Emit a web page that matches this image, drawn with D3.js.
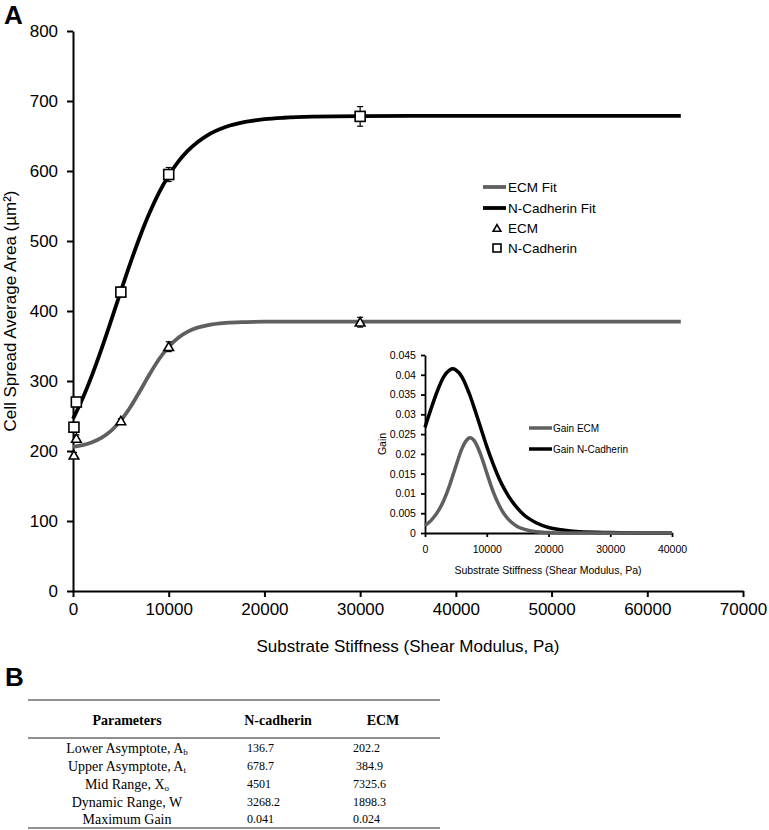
<!DOCTYPE html>
<html>
<head>
<meta charset="utf-8">
<script src="https://cdn.jsdelivr.net/npm/d3@7/dist/d3.min.js"></script>
<style>
  html, body { margin: 0; padding: 0; background: #fff; }
  svg { display: block; }
  text { font-family: "Liberation Sans", Arial, sans-serif; fill: #000; }
  .serif { font-family: "Liberation Serif", "Times New Roman", serif; }
</style>
</head>
<body>
<svg id="chart" width="769" height="830"></svg>
<script>
// ---------------- DATA ----------------
// Measured points (Substrate stiffness, Pa)
const ecmX = [100, 350, 5000, 10000, 30000];
const ecmY = [194, 218, 243, 349, 384];
const ecmErr = [4, 5, 3, 7, 7];
const ncadX = [100, 350, 5000, 10000, 30000];
const ncadY = [234, 270, 427, 595, 678];
const ncadErr = [4, 5, 7, 10, 14];

// Fit curves
const fitX = [0,1000,2000,3000,4000,5000,6000,7000,8000,9000,10000,11000,12000,13000,14000,16000,18000,20000,22000,25000,30000,40000,63500];
const ncadFitY = [245.9,275.0,308.8,346.6,387.0,428.4,468.8,506.5,540.3,569.5,593.7,613.4,629.1,641.2,650.6,663.1,670.1,674.0,676.1,677.7,678.5,678.7,678.7];
const ecmFitY = [206.0,208.5,212.6,219.2,229.2,243.7,262.9,285.7,309.6,331.4,349.0,361.9,370.6,376.2,379.6,383.0,384.2,384.7,384.8,384.9,384.9,384.9,384.9];

// Inset gain curves
const gainX = [0,1000,2000,3000,4000,4500,5000,6000,7000,7300,8000,9000,10000,11000,12000,13000,14000,15000,16000,18000,20000,22000,25000,30000,35000,40000];
const gainNcad = [0.0267,0.0315,0.0359,0.0394,0.0412,0.0415,0.0412,0.0394,0.0359,0.0347,0.0315,0.0267,0.0219,0.0176,0.0138,0.0107,0.0082,0.0062,0.0046,0.0026,0.0014,0.0008,0.0003,0.0001,0.0000,0.0000];
const gainEcm = [0.0019,0.0032,0.0052,0.0081,0.0121,0.0145,0.0169,0.0214,0.0239,0.0241,0.0233,0.0199,0.0152,0.0106,0.0070,0.0044,0.0027,0.0016,0.0010,0.0003,0.0001,0.0000,0.0000,0.0000,0.0000,0.0000];

// Ticks
const mainXTicks = [0,10000,20000,30000,40000,50000,60000,70000];
const mainYTicks = [0,100,200,300,400,500,600,700,800];
const insetXTicks = [0,10000,20000,30000,40000];
const insetYTicks = [0,0.005,0.01,0.015,0.02,0.025,0.03,0.035,0.04,0.045];

// Table
const tableHeaders = ["Parameters", "N-cadherin", "ECM"];
const tableParams = [["Lower Asymptote, A","b"],["Upper Asymptote, A","t"],["Mid Range, X","o"],["Dynamic Range, W",""],["Maximum Gain",""]];
const tableNcad = ["136.7","678.7","4501","3268.2","0.041"];
const tableEcm = ["202.2"," 384.9","7325.6","1898.3","0.024"];

// ---------------- DRAW ----------------
const svg = d3.select("#chart");
svg.append("rect").attr("width",769).attr("height",830).attr("fill","#fff");

const GRAY = "#5f5f5f";

// Main scales
const x = d3.scaleLinear().domain([0,70000]).range([73,743]);
const y = d3.scaleLinear().domain([0,800]).range([591,31]);

// Panel labels
svg.append("text").attr("x",4).attr("y",24).attr("font-size",26).attr("font-weight","bold").text("A");
svg.append("text").attr("x",5).attr("y",686).attr("font-size",26).attr("font-weight","bold").text("B");

// Axes
const xAxis = svg.append("g").attr("transform","translate(0,591)")
  .call(d3.axisBottom(x).tickValues(mainXTicks).tickFormat(d3.format("d")).tickSize(6).tickSizeOuter(0));
const yAxis = svg.append("g").attr("transform","translate(73,0)")
  .call(d3.axisLeft(y).tickValues(mainYTicks).tickFormat(d3.format("d")).tickSize(6).tickSizeOuter(0));
[xAxis,yAxis].forEach(g=>{
  g.select(".domain").attr("stroke","#000").attr("stroke-width",2);
  g.selectAll(".tick line").attr("stroke","#000").attr("stroke-width",2);
  g.selectAll(".tick text").attr("font-size",17).attr("font-family","Liberation Sans, Arial, sans-serif").attr("fill","#000");
});
xAxis.selectAll(".tick text").attr("dy","0.9em");
yAxis.selectAll(".tick text").attr("dx","-0.35em");

svg.append("text").attr("x",408).attr("y",652).attr("text-anchor","middle").attr("font-size",17)
  .text("Substrate Stiffness (Shear Modulus, Pa)");
svg.append("text").attr("transform","translate(16,311) rotate(-90)").attr("text-anchor","middle").attr("font-size",17)
  .text("Cell Spread Average Area (µm²)");

// Fit lines
const lineMain = d3.line().x(d=>x(d[0])).y(d=>y(d[1])).curve(d3.curveMonotoneX);
svg.append("path").datum(fitX.map((v,i)=>[v,ecmFitY[i]]))
  .attr("d",lineMain).attr("fill","none").attr("stroke",GRAY).attr("stroke-width",3.8);
svg.append("path").datum(fitX.map((v,i)=>[v,ncadFitY[i]]))
  .attr("d",lineMain).attr("fill","none").attr("stroke","#000").attr("stroke-width",3.8);

// Error bars
function errBars(xs, ys, es){
  const g = svg.append("g").attr("stroke","#000").attr("stroke-width",1.2);
  xs.forEach((v,i)=>{
    const cx = x(v), y1 = y(ys[i]-es[i]), y2 = y(ys[i]+es[i]);
    g.append("line").attr("x1",cx).attr("x2",cx).attr("y1",y1).attr("y2",y2);
    g.append("line").attr("x1",cx-3).attr("x2",cx+3).attr("y1",y1).attr("y2",y1);
    g.append("line").attr("x1",cx-3).attr("x2",cx+3).attr("y1",y2).attr("y2",y2);
  });
}
errBars(ecmX, ecmY, ecmErr);
errBars(ncadX, ncadY, ncadErr);

// Markers
const tri = d3.symbol().type(d3.symbolTriangle).size(40);
svg.append("g").selectAll("path").data(ecmX.map((v,i)=>[v,ecmY[i]])).join("path")
  .attr("d",tri).attr("transform",d=>`translate(${x(d[0])},${y(d[1])+1})`)
  .attr("fill","#fff").attr("stroke","#000").attr("stroke-width",1.6);
svg.append("g").selectAll("rect").data(ncadX.map((v,i)=>[v,ncadY[i]])).join("rect")
  .attr("x",d=>x(d[0])-5).attr("y",d=>y(d[1])-5).attr("width",10).attr("height",10)
  .attr("fill","#fff").attr("stroke","#000").attr("stroke-width",1.6);

// Main legend
const lg = svg.append("g");
const legItems = [
  {t:"ECM Fit", type:"line", c:GRAY, y:187},
  {t:"N-Cadherin Fit", type:"line", c:"#000", y:208},
  {t:"ECM", type:"tri", y:228},
  {t:"N-Cadherin", type:"sq", y:248}
];
legItems.forEach(it=>{
  if(it.type==="line"){
    lg.append("line").attr("x1",483).attr("x2",506).attr("y1",it.y).attr("y2",it.y).attr("stroke",it.c).attr("stroke-width",3.8);
  } else if(it.type==="tri"){
    lg.append("path").attr("d",d3.symbol().type(d3.symbolTriangle).size(26)).attr("transform",`translate(497,${it.y+1})`)
      .attr("fill","#fff").attr("stroke","#000").attr("stroke-width",1.6);
  } else {
    lg.append("rect").attr("x",493).attr("y",it.y-4).attr("width",8).attr("height",8)
      .attr("fill","#fff").attr("stroke","#000").attr("stroke-width",1.6);
  }
  lg.append("text").attr("x",508).attr("y",it.y+5).attr("font-size",13.5).text(it.t);
});

// ---------------- INSET ----------------
const ix = d3.scaleLinear().domain([0,40000]).range([425,672]);
const iy = d3.scaleLinear().domain([0,0.045]).range([533,355]);
const fmtGain = d=> d===0 ? "0" : String(+d.toFixed(3));
const ixAxis = svg.append("g").attr("transform","translate(0,533)")
  .call(d3.axisBottom(ix).tickValues(insetXTicks).tickFormat(d3.format("d")).tickSize(4).tickSizeOuter(0));
const iyAxis = svg.append("g").attr("transform","translate(425,0)")
  .call(d3.axisLeft(iy).tickValues(insetYTicks).tickFormat(fmtGain).tickSize(4).tickSizeOuter(0));
[ixAxis,iyAxis].forEach(g=>{
  g.select(".domain").attr("stroke","#000").attr("stroke-width",1.8);
  g.selectAll(".tick line").attr("stroke","#000").attr("stroke-width",1.8);
  g.selectAll(".tick text").attr("font-size",10.5).attr("font-family","Liberation Sans, Arial, sans-serif").attr("fill","#000");
});
ixAxis.selectAll(".tick text").attr("dy","1.25em");
iyAxis.selectAll(".tick text").attr("dx","-0.2em");
svg.append("text").attr("x",548).attr("y",574).attr("text-anchor","middle").attr("font-size",10.5)
  .text("Substrate Stiffness (Shear Modulus, Pa)");
svg.append("text").attr("transform","translate(386,444) rotate(-90)").attr("text-anchor","middle").attr("font-size",10.5)
  .text("Gain");

const lineInset = d3.line().x(d=>ix(d[0])).y(d=>iy(d[1])).curve(d3.curveMonotoneX);
svg.append("path").datum(gainX.map((v,i)=>[v,gainNcad[i]]))
  .attr("d",lineInset).attr("fill","none").attr("stroke","#000").attr("stroke-width",3.5);
svg.append("path").datum(gainX.map((v,i)=>[v,gainEcm[i]]))
  .attr("d",lineInset).attr("fill","none").attr("stroke",GRAY).attr("stroke-width",3.5);

// Inset legend
[{t:"Gain ECM",c:GRAY,y:428},{t:"Gain N-Cadherin",c:"#000",y:449}].forEach(it=>{
  svg.append("line").attr("x1",529).attr("x2",552).attr("y1",it.y).attr("y2",it.y).attr("stroke",it.c).attr("stroke-width",3.5);
  svg.append("text").attr("x",553).attr("y",it.y+3.5).attr("font-size",10).text(it.t);
});

// ---------------- TABLE ----------------
const tb = svg.append("g").attr("class","serif");
const tLeft = 28, tRight = 440;
tb.append("line").attr("x1",tLeft).attr("x2",tRight).attr("y1",700).attr("y2",700).attr("stroke","#222").attr("stroke-width",1.2);
tb.append("line").attr("x1",tLeft).attr("x2",tRight).attr("y1",738).attr("y2",738).attr("stroke","#222").attr("stroke-width",1.2);
tb.append("line").attr("x1",tLeft).attr("x2",tRight).attr("y1",828).attr("y2",828).attr("stroke","#222").attr("stroke-width",1.2);
const hdrX = [127, 278, 383];
tableHeaders.forEach((h,i)=>{
  tb.append("text").attr("class","serif").attr("x",hdrX[i]).attr("y",725).attr("text-anchor","middle")
    .attr("font-size",14).attr("font-weight","bold").text(h);
});
const rowY = [753, 771, 789, 807, 824];
tableParams.forEach((p,i)=>{
  const t = tb.append("text").attr("class","serif").attr("x",127).attr("y",rowY[i]).attr("text-anchor","middle").attr("font-size",14);
  t.append("tspan").text(p[0]);
  if(p[1]) t.append("tspan").attr("font-size",9).attr("dy",2).text(p[1]);
  tb.append("text").attr("class","serif").attr("x",247).attr("y",rowY[i]-1).attr("font-size",12).attr("xml:space","preserve").text(tableNcad[i]);
  tb.append("text").attr("class","serif").attr("x",353).attr("y",rowY[i]-1).attr("font-size",12).attr("xml:space","preserve").text(tableEcm[i]);
});
</script>
</body>
</html>
